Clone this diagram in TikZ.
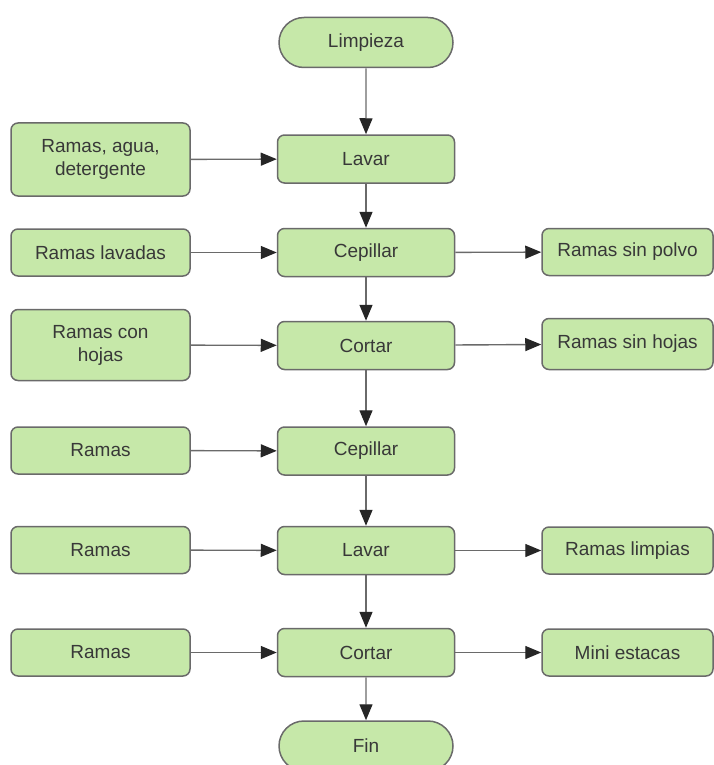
\documentclass[tikz,border=0pt]{standalone}
\usepackage{fontspec}
\setmainfont{Liberation Sans}
\usetikzlibrary{arrows.meta,shapes.misc}
\definecolor{boxgreen}{HTML}{C6E8A9}
\definecolor{linegray}{HTML}{6A6A6A}
\definecolor{textgray}{HTML}{383838}
\definecolor{tipdark}{HTML}{262626}

\begin{document}
\begin{tikzpicture}[x=1pt,y=-1pt,->,>={Triangle[length=16pt,width=13pt,color=tipdark]},
  every node/.style={font=\fontsize{19}{23}\selectfont,text=textgray},
  box/.style={rectangle,rounded corners=7pt,draw=linegray,fill=boxgreen,line width=1.5pt,align=center,inner sep=0pt},
  main node/.style={box,minimum width=177pt,minimum height=48pt},
  side node/.style={box,minimum width=179pt,minimum height=47pt},
  out node/.style={box,minimum width=171pt,minimum height=47pt},
  term node/.style={rounded rectangle,draw=linegray,fill=boxgreen,line width=1.5pt,inner sep=0pt,minimum width=174pt,minimum height=50pt}]
  \useasboundingbox (0,0) rectangle (714,765);

  % main column
  \node[term node] (0) at (366,42.5) {Limpieza};
  \node[main node] (1) at (366,159) {Lavar};
  \node[main node] (2) at (366,252.5) {Cepillar};
  \node[main node] (3) at (366,345.5) {Cortar};
  \node[main node] (4) at (366,451) {Cepillar};
  \node[main node] (5) at (366,550.5) {Lavar};
  \node[main node] (6) at (366,652.5) {Cortar};
  \node[term node] (7) at (366,746) {Fin};

  % inputs
  \node[side node,minimum height=73pt] (in1) at (100.5,159.5) {Ramas, agua,\\detergente};
  \node[side node] (in2) at (100.5,252.5) {Ramas lavadas};
  \node[side node,minimum height=71pt] (in3) at (100.5,345) {Ramas con\\hojas};
  \node[side node] (in4) at (100.5,450.5) {Ramas};
  \node[side node] (in5) at (100.5,550) {Ramas};
  \node[side node] (in6) at (100.5,652.5) {Ramas};

  % outputs
  \node[out node] (out2) at (627.5,252) {Ramas sin polvo};
  \node[out node,minimum height=51pt] (out3) at (627.5,344) {Ramas sin hojas};
  \node[out node] (out5) at (627.5,550.5) {Ramas limpias};
  \node[out node] (out6) at (627.5,652.5) {Mini estacas};

  \path[every edge/.style={draw=linegray,line width=1.4pt}]
    (0) edge (1)
    (1) edge (2)
    (2) edge (3)
    (3) edge (4)
    (4) edge (5)
    (5) edge (6)
    (6) edge (7)
    (in1) edge (1)
    (in2) edge (2)
    (in3) edge (3)
    (in4) edge (4)
    (in5) edge (5)
    (in6) edge (6)
    (2) edge (out2)
    (3) edge (out3)
    (5) edge (out5)
    (6) edge (out6);
\end{tikzpicture}
\end{document}
